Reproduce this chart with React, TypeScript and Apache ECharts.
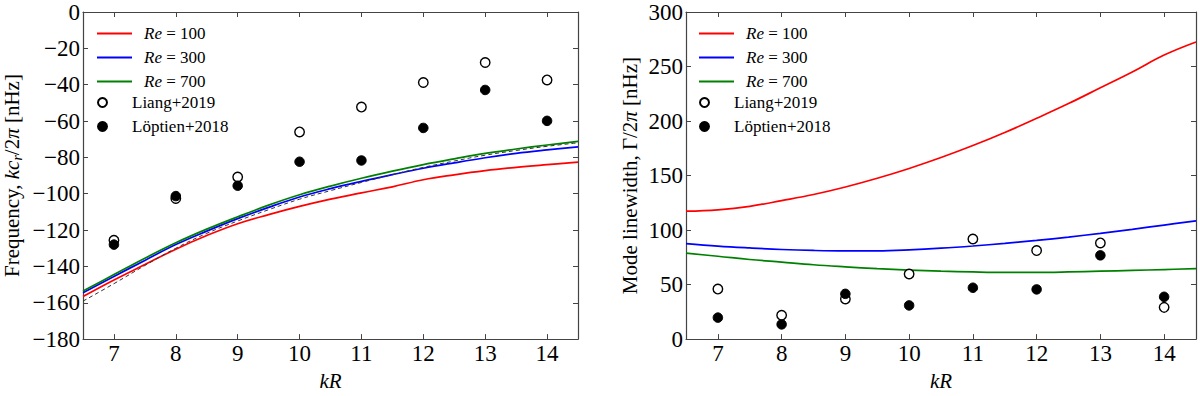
import React, { useEffect, useRef } from "react";
import * as echarts from "echarts";

// ---- data ----
const kGrid = [6.5, 7, 7.5, 8, 8.5, 9, 9.5, 10, 10.5, 11, 11.5, 12, 12.5, 13, 13.5, 14, 14.5];
const kObs = [7, 8, 9, 10, 11, 12, 13, 14];
const xTicks = [7, 8, 9, 10, 11, 12, 13, 14];

// left panel: frequency (nHz)
const freqRe100 = [-156.6, -147.5, -139, -130.5, -123, -116.5, -111.5, -107, -103, -99.5, -96.2, -92.3, -89.6, -87.3, -85.5, -84, -82.6];
const freqRe300 = [-154.5, -145.5, -136.7, -128, -120.6, -113.7, -107.5, -101.8, -97.2, -93.2, -89.5, -86, -83, -80.2, -77.8, -75.9, -74.2];
const freqRe700 = [-153.5, -144.5, -135.5, -127, -119.5, -112.7, -106.3, -100.6, -95.8, -91.5, -87.6, -84, -80.8, -77.8, -75.4, -73.2, -71.2];
const freqDashed = [-159.1, -149.5, -139.5, -130, -121.8, -115, -108.8, -103, -98.3, -93.8, -89.5, -85.5, -82, -78.8, -76.2, -73.9, -72];
const freqLiang = [-125.6, -102.6, -90.8, -66, -52.3, -38.8, -27.8, -37.4];
const freqLoptien = [-128, -101.3, -95.6, -82.4, -81.7, -63.8, -42.9, -59.9];

// right panel: linewidth (nHz)
const widthRe100 = [117.3, 118.6, 121.8, 127, 132.6, 139.5, 147.5, 156.5, 166.5, 177.5, 189.5, 202.5, 216, 230.5, 245, 260.5, 272.5];
const widthRe300 = [87.6, 85.3, 83.6, 82.2, 81.3, 80.9, 81, 81.9, 83.4, 85.4, 87.8, 90.5, 93.6, 97, 100.7, 104.6, 108.4];
const widthRe700 = [78.8, 76, 73, 70.6, 68.2, 66.3, 64.6, 63.3, 62.3, 61.6, 61.2, 61.2, 61.6, 62.3, 63, 63.8, 64.7];
const widthLiang = [45.9, 21.8, 36.8, 59.7, 91.8, 81.2, 88.2, 29.1];
const widthLoptien = [19.7, 13.5, 41.5, 30.9, 47.1, 45.6, 76.8, 38.8];

const lineNames = ["Re = 100", "Re = 300", "Re = 700"];
const pointNames = ["Liang+2019", "Löptien+2018"];

const FONT = "'Liberation Serif', 'Times New Roman', serif";
const AXIS_COLOR = "#444";

const pairs = (xs: number[], ys: number[]) => xs.map((x, i) => [x, ys[i]]);
const minus = (v: number) => (v < 0 ? "\u2212" + Math.abs(v) : String(v));

export default function App() {
  const ref = useRef<HTMLDivElement>(null);

  useEffect(() => {
    if (!ref.current) return;
    const chart = echarts.init(ref.current, undefined, { renderer: "svg" });

    const grids = [
      { left: 83, top: 12, width: 495, height: 339 },
      { left: 686, top: 12, width: 510, height: 339 },
    ];

    const tickText = {
      fontFamily: FONT,
      fontSize: 23,
      color: "#000",
      textStyle: { fontFamily: FONT, fontSize: 23, color: "#000" },
    };

    const xBase = (gridIndex: number, position: "bottom" | "top") => ({
      type: "value",
      gridIndex,
      position,
      min: 6.5,
      max: 14.5,
      splitLine: { show: false },
      axisLine: { show: true, onZero: false, lineStyle: { color: AXIS_COLOR, width: 1.2 } },
      axisTick: {
        show: true,
        inside: true,
        length: 5,
        customValues: xTicks,
        lineStyle: { color: AXIS_COLOR },
      },
      axisLabel: {
        show: position === "bottom",
        customValues: xTicks,
        margin: 3,
        ...tickText,
      },
      ...(position === "bottom"
        ? {
            name: "{i|kR}",
            nameLocation: "middle",
            nameGap: 22,
            nameTextStyle: {
              fontFamily: FONT,
              fontSize: 21,
              color: "#000",
              rich: { i: { fontFamily: FONT, fontSize: 21, fontStyle: "italic", color: "#000" } },
            },
          }
        : {}),
    });

    const yBase = (
      gridIndex: number,
      position: "left" | "right",
      min: number,
      max: number,
      interval: number,
      name?: string,
      nameGap?: number
    ) => ({
      type: "value",
      gridIndex,
      position,
      min,
      max,
      interval,
      splitLine: { show: false },
      axisLine: { show: true, onZero: false, lineStyle: { color: AXIS_COLOR, width: 1.2 } },
      axisTick: { show: true, inside: true, length: 5, lineStyle: { color: AXIS_COLOR } },
      axisLabel: {
        show: position === "left",
        margin: 3,
        ...tickText,
        formatter: (v: number) => minus(v),
      },
      ...(name
        ? {
            name,
            nameLocation: "middle",
            nameGap,
            nameRotate: 90,
            nameTextStyle: {
              fontFamily: FONT,
              fontSize: 21,
              color: "#000",
              rich: {
                n: { fontFamily: FONT, fontSize: 21, color: "#000", lineHeight: 21, verticalAlign: "top" },
                i: { fontFamily: FONT, fontSize: 21, fontStyle: "italic", color: "#000", lineHeight: 21, verticalAlign: "top" },
                s: { fontFamily: FONT, fontSize: 14, fontStyle: "italic", color: "#000", lineHeight: 14, padding: [9, 0, 0, 0], verticalAlign: "top" },
              },
            },
          }
        : {}),
    });

    const lineSeries = (name: string, xi: number, yi: number, ys: number[], color: string, dashed = false) => ({
      type: "line",
      name,
      xAxisIndex: xi,
      yAxisIndex: yi,
      data: pairs(kGrid, ys),
      symbol: "none",
      showSymbol: false,
      smooth: 0.4,
      lineStyle: { color, width: dashed ? 1 : 1.7, type: dashed ? [4, 3] : "solid", opacity: 1 },
      itemStyle: { color },
      z: dashed ? 3 : 2,
    });

    const scatterSeries = (name: string, xi: number, yi: number, ys: number[], filled: boolean) => ({
      type: "scatter",
      name,
      xAxisIndex: xi,
      yAxisIndex: yi,
      data: pairs(kObs, ys),
      symbol: "circle",
      symbolSize: 9.5,
      itemStyle: filled
        ? { color: "#000", borderColor: "#000", borderWidth: 1, opacity: 1 }
        : { color: "#fff", borderColor: "#000", borderWidth: 1.4, opacity: 1 },
      z: filled ? 5 : 4,
    });

    const textStyle = {
      fontFamily: FONT,
      fontSize: 17,
      lineHeight: 16,
      color: "#000",
      padding: [0, 0, 0, 7],
      rich: { i: { fontFamily: FONT, fontSize: 17, fontStyle: "italic", color: "#000" } },
    };

    const lineLegend = (left: number) => ({
      orient: "vertical",
      left,
      top: 25,
      padding: 0,
      itemWidth: 35,
      itemHeight: 2,
      itemGap: 7,
      selectedMode: false,
      data: lineNames.map((n) => ({ name: n, icon: "rect" })),
      formatter: (name: string) => "{i|Re}" + name.slice(2),
      textStyle,
    });

    const pointLegend = (left: number) => ({
      orient: "vertical",
      left,
      top: 25 + 3 * 23,
      padding: 0,
      itemWidth: 35,
      itemHeight: 9,
      itemGap: 7,
      selectedMode: false,
      data: pointNames,
      textStyle,
    });

    chart.setOption({
      animation: false,
      backgroundColor: "#fff",
      textStyle: { fontFamily: FONT },
      grid: grids.map((g) => ({ ...g, show: false, containLabel: false })),
      legend: [lineLegend(97), pointLegend(97), lineLegend(699), pointLegend(699)],
      xAxis: [xBase(0, "bottom"), xBase(1, "bottom"), xBase(0, "top"), xBase(1, "top")],
      yAxis: [
        yBase(0, "left", -180, 0, 20, "{n|Frequency, }{i|kc}{s|r}{n|/2}{i|π}{n| [nHz]}", 61),
        yBase(1, "left", 0, 300, 50, "{n|Mode linewidth, Γ/2}{i|π}{n| [nHz]}", 46),
        yBase(0, "right", -180, 0, 20),
        yBase(1, "right", 0, 300, 50),
      ],
      series: [
        lineSeries("Re = 100", 0, 0, freqRe100, "#ff0000"),
        lineSeries("Re = 300", 0, 0, freqRe300, "#0000ff"),
        lineSeries("Re = 700", 0, 0, freqRe700, "#008000"),
        lineSeries("dashed reference", 0, 0, freqDashed, "#333333", true),
        scatterSeries("Liang+2019", 0, 0, freqLiang, false),
        scatterSeries("Löptien+2018", 0, 0, freqLoptien, true),
        lineSeries("Re = 100", 1, 1, widthRe100, "#ff0000"),
        lineSeries("Re = 300", 1, 1, widthRe300, "#0000ff"),
        lineSeries("Re = 700", 1, 1, widthRe700, "#008000"),
        scatterSeries("Liang+2019", 1, 1, widthLiang, false),
        scatterSeries("Löptien+2018", 1, 1, widthLoptien, true),
      ],
    });

    return () => chart.dispose();
  }, []);

  return (
    <div
      ref={ref}
      style={{ position: "fixed", left: 0, top: 0, width: 1200, height: 396, background: "#fff" }}
    />
  );
}
